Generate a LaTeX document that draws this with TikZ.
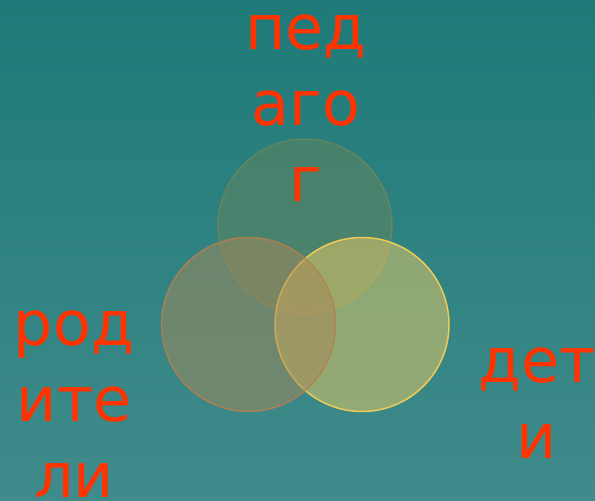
\documentclass[tikz,border=0pt]{standalone}
\usepackage{fontspec}
\newfontfamily\labfont{DejaVu Sans}
\definecolor{bgtop}{RGB}{30,122,120}
\definecolor{bgbot}{RGB}{64,139,139}
\definecolor{labred}{RGB}{255,51,0}
\definecolor{topfill}{RGB}{101,132,91}
\definecolor{topline}{RGB}{140,136,80}
\definecolor{leftfill}{RGB}{170,136,90}
\definecolor{leftline}{RGB}{180,128,78}
\definecolor{rightfill}{RGB}{238,204,100}
\definecolor{rightline}{RGB}{245,205,85}
\tikzset{
  lab/.style={text=labred, font=\labfont\fontsize{62}{76}\selectfont, anchor=base, inner sep=0pt},
  ring/.style={circle, minimum size=174pt, inner sep=0pt, line width=1.5pt, fill opacity=0.5}
}
\begin{document}
\begin{tikzpicture}[x=1pt,y=-1pt]
\shade[top color=bgtop, bottom color=bgbot] (0,0) rectangle (595,501);
\useasboundingbox (0,0) rectangle (595,501);
% circles: top, right, left (drawing order)
\node[ring, fill=topfill, draw=topline, draw opacity=0.5] (top) at (305,226) {};
\node[ring, fill=rightfill, draw=rightline, draw opacity=0.95] (right) at (362,324.5) {};
\node[ring, fill=leftfill, draw=leftline, draw opacity=0.85] (left) at (248.5,324.5) {};
% labels
\node[lab] (p1) at (306,49) {пед};
\node[lab] (p2) at (306,125) {аго};
\node[lab] (p3) at (306,201) {г};
\node[lab] (r1) at (74,345) {род};
\node[lab] (r2) at (74,421) {ите};
\node[lab] (r3) at (74,497) {ли};
\node[lab] (d1) at (537,382) {дет};
\node[lab] (d2) at (537,458) {и};
\end{tikzpicture}
\end{document}
